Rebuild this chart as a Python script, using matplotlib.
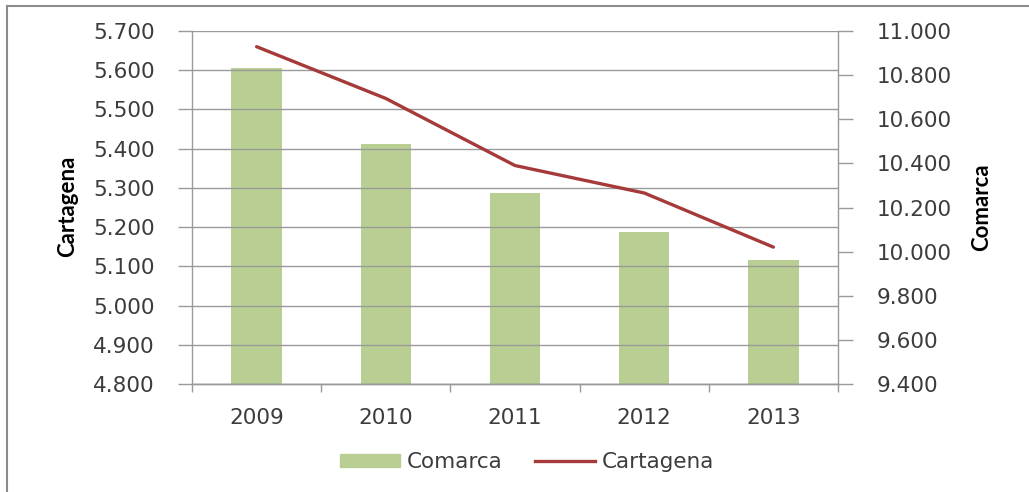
import matplotlib
matplotlib.use("Agg")
import matplotlib.pyplot as plt
from matplotlib.lines import Line2D
from matplotlib.ticker import FixedLocator, FuncFormatter

years = ["2009", "2010", "2011", "2012", "2013"]
comarca = [10.834, 10.488, 10.266, 10.089, 9.962]      # bars, right axis
cartagena = [5.660, 5.528, 5.357, 5.287, 5.149]        # line, left axis
left_ticks = [4.8, 4.9, 5.0, 5.1, 5.2, 5.3, 5.4, 5.5, 5.6, 5.7]
right_ticks = [9.4, 9.6, 9.8, 10.0, 10.2, 10.4, 10.6, 10.8, 11.0]

W, H = 1029, 492
fig = plt.figure(figsize=(W / 100, H / 100), dpi=100)
fig.patch.set_facecolor("white")

def fx(px):
    return px / W

def fy(py):
    return 1 - py / H

L, R, T, B = 192, 838, 31, 384
ax = fig.add_axes([fx(L), fy(B), fx(R - L), fy(T) - fy(B)])
ax2 = ax.twinx()

bar_color = "#B8CE93"
line_color = "#A63A3A"
grid_color = "#9A9A9A"
text_color = "#3C3C3C"
TS = 15.5

x = list(range(len(years)))
ax2.bar(x, comarca, width=0.39, color=bar_color, zorder=2)
ax.plot(x, cartagena, color=line_color, lw=2.4, solid_capstyle="round", zorder=3)

ax.set_zorder(ax2.get_zorder() + 1)
ax.patch.set_visible(False)

ax.set_xlim(-0.5, len(years) - 0.5)
ax.set_ylim(4.8, 5.7)
ax2.set_ylim(9.4, 11.0)

ax.yaxis.set_major_locator(FixedLocator(left_ticks))
ax2.yaxis.set_major_locator(FixedLocator(right_ticks))
fmt = FuncFormatter(lambda v, p: f"{v:.3f}")
ax.yaxis.set_major_formatter(fmt)
ax2.yaxis.set_major_formatter(fmt)

for v in left_ticks:
    ax.axhline(v, color=grid_color, lw=1.0, zorder=0)

ax.set_xticks([i + 0.5 for i in range(-1, len(years))], minor=False)
ax.set_xticklabels([])
ax.set_xticks(x, minor=True)
ax.set_xticklabels(years, minor=True)
ax.tick_params(axis="x", which="major", length=6, width=1, color=grid_color, direction="out")
ax.tick_params(axis="x", which="minor", length=0, pad=17, labelcolor=text_color, labelsize=TS)
ax.tick_params(axis="y", length=10, width=1, color=grid_color, direction="out", pad=17,
               labelcolor=text_color, labelsize=TS)
ax2.tick_params(axis="y", length=11, width=1, color=grid_color, direction="out", pad=17,
                labelcolor=text_color, labelsize=TS)
for lab in ax.get_xticklabels(minor=True) + ax.get_yticklabels() + ax2.get_yticklabels():
    lab.set_family("DejaVu Sans")

for a in (ax, ax2):
    a.spines["top"].set_visible(False)
    for s in ("left", "right", "bottom"):
        a.spines[s].set_color(grid_color)
        a.spines[s].set_linewidth(1.0)
ax.spines["right"].set_visible(False)
ax2.spines["left"].set_visible(False)

label_font = dict(family=["Lato", "DejaVu Sans"], size=16, weight="bold", color="black")
fig.text(fx(68), fy(206), "Cartagena", rotation=90, ha="center", va="center", **label_font)
fig.text(fx(982), fy(207), "Comarca", rotation=90, ha="center", va="center", **label_font)

handles = [plt.Rectangle((0, 0), 1, 1, color=bar_color),
           Line2D([0], [0], color=line_color, lw=2.4)]
leg = fig.legend(handles, ["Comarca", "Cartagena"], loc="center",
                 bbox_to_anchor=(fx(527), fy(462)), ncol=2, frameon=False,
                 prop=dict(family="DejaVu Sans", size=TS),
                 handlelength=2.8, handleheight=0.55, handletextpad=0.3,
                 columnspacing=1.5)
for t in leg.get_texts():
    t.set_color(text_color)

fig.add_artist(Line2D([fx(7), fx(7)], [fy(6), 0], color="#8C8C8C", lw=1.5))
fig.add_artist(Line2D([fx(7), 1], [fy(6), fy(6)], color="#8C8C8C", lw=1.5))

fig.savefig("out.png", dpi=100, facecolor="white")
